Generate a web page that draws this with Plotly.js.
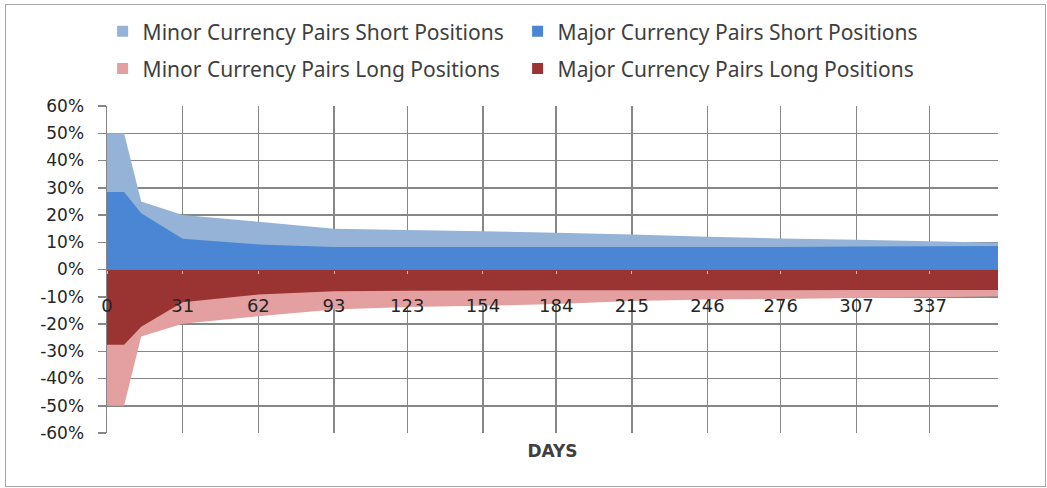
<!DOCTYPE html>
<html>
<head>
<meta charset="utf-8">
<script src="https://cdn.plot.ly/plotly-3.0.1.min.js"></script>
<style>
  html, body { margin: 0; padding: 0; background: #ffffff; }
  #wrap { position: relative; width: 1047px; height: 488px; }
  #chart { width: 1047px; height: 488px; }
  #frame { position: absolute; left: 5px; top: 4px; width: 1039px; height: 481px;
           border: 1px solid #a6a6a6; pointer-events: none; }
</style>
</head>
<body>
<div id="wrap">
  <div id="chart"></div>
  <div id="frame"></div>
</div>
<script>
// ---- data ----
const days = [0, 7, 14, 31, 62, 93, 123, 154, 184, 215, 246, 276, 307, 337, 365];
const tickDays = [0, 31, 62, 93, 123, 154, 184, 215, 246, 276, 307, 337];
const minorShort = [0.50, 0.50, 0.25, 0.20, 0.175, 0.15, 0.145, 0.14, 0.135, 0.128, 0.12, 0.114, 0.109, 0.104, 0.098];
const majorShort = [0.284, 0.284, 0.206, 0.113, 0.092, 0.083, 0.083, 0.083, 0.083, 0.083, 0.083, 0.083, 0.084, 0.085, 0.086];
const minorLong  = [-0.50, -0.50, -0.246, -0.199, -0.172, -0.147, -0.138, -0.133, -0.127, -0.116, -0.11, -0.108, -0.105, -0.103, -0.098];
const majorLong  = [-0.276, -0.276, -0.21, -0.12, -0.092, -0.08, -0.078, -0.077, -0.076, -0.076, -0.076, -0.076, -0.075, -0.075, -0.075];
const seriesNames = [
  'Minor Currency Pairs Short Positions',
  'Major Currency Pairs Short Positions',
  'Minor Currency Pairs Long Positions',
  'Major Currency Pairs Long Positions'
];
const yTicks = [-0.6, -0.5, -0.4, -0.3, -0.2, -0.1, 0, 0.1, 0.2, 0.3, 0.4, 0.5, 0.6];
const yTickLabels = ['-60%', '-50%', '-40%', '-30%', '-20%', '-10%', '0%', '10%', '20%', '30%', '40%', '50%', '60%'];

const colors = ['#95B3D7', '#4A86D4', '#E4A0A0', '#9A3432'];
const values = [minorShort, majorShort, minorLong, majorLong];
const legendFor = ['legend', 'legend', 'legend2', 'legend2'];

const traces = [];
// filled areas
values.forEach((v, i) => {
  traces.push({
    type: 'scatter', mode: 'none', x: days, y: v,
    fill: 'tozeroy', fillcolor: colors[i],
    name: seriesNames[i], showlegend: false, hoverinfo: 'skip'
  });
});
// legend entries (square swatches)
seriesNames.forEach((n, i) => {
  traces.push({
    type: 'scatter', mode: 'markers', x: [null], y: [null],
    marker: { symbol: 'square', size: 11, color: colors[i] },
    name: n, legend: legendFor[i], showlegend: true, hoverinfo: 'skip'
  });
});
// invisible carrier for the zero-line tick labels axis
traces.push({
  type: 'scatter', mode: 'none', x: days, y: days.map(() => 0),
  xaxis: 'x2', yaxis: 'y', showlegend: false, hoverinfo: 'skip'
});

const gridColor = '#878787';
const legendFont = { family: 'Noto Sans', size: 21, color: '#404040' };

const layout = {
  width: 1047, height: 488,
  margin: { l: 107, r: 49, t: 106, b: 55 },
  paper_bgcolor: '#ffffff', plot_bgcolor: '#ffffff',
  showlegend: true,
  legend: {
    orientation: 'h', xref: 'container', yref: 'container',
    x: 0.098, xanchor: 'left', y: 0.977, yanchor: 'top',
    entrywidth: 370, entrywidthmode: 'pixels', itemwidth: 30,
    font: legendFont, bgcolor: 'rgba(0,0,0,0)'
  },
  legend2: {
    orientation: 'h', xref: 'container', yref: 'container',
    x: 0.098, xanchor: 'left', y: 0.901, yanchor: 'top',
    entrywidth: 370, entrywidthmode: 'pixels', itemwidth: 30,
    font: legendFont, bgcolor: 'rgba(0,0,0,0)'
  },
  xaxis: {
    range: [0, 365], tickmode: 'array', tickvals: tickDays,
    showticklabels: false, ticks: '',
    showgrid: true, gridcolor: gridColor, gridwidth: 1.5,
    zeroline: false, showline: false,
    title: { text: '<b>DAYS</b>', font: { family: 'DejaVu Sans', size: 17, color: '#404040' }, standoff: 12 }
  },
  xaxis2: {
    overlaying: 'x', anchor: 'free', position: 0.5, side: 'bottom',
    range: [0, 365], tickmode: 'array', tickvals: tickDays,
    ticktext: tickDays.map(String),
    ticks: 'outside', ticklen: 3, tickcolor: '#e8b0b0', tickwidth: 1,
    ticklabelstandoff: 17,
    showgrid: false, zeroline: false, showline: false,
    tickfont: { family: 'DejaVu Sans', size: 18, color: '#262626' }
  },
  yaxis: {
    range: [-0.6, 0.6], tickmode: 'array', tickvals: yTicks, ticktext: yTickLabels,
    ticks: 'outside', ticklen: 8, tickcolor: gridColor, tickwidth: 1.5,
    ticklabelstandoff: 10,
    showgrid: true, gridcolor: gridColor, gridwidth: 1.5,
    showline: true, linecolor: gridColor, linewidth: 1.5,
    zeroline: false,
    tickfont: { family: 'DejaVu Sans', size: 17, color: '#262626' }
  }
};

Plotly.newPlot('chart', traces, layout, { displayModeBar: false, staticPlot: true });
</script>
</body>
</html>
